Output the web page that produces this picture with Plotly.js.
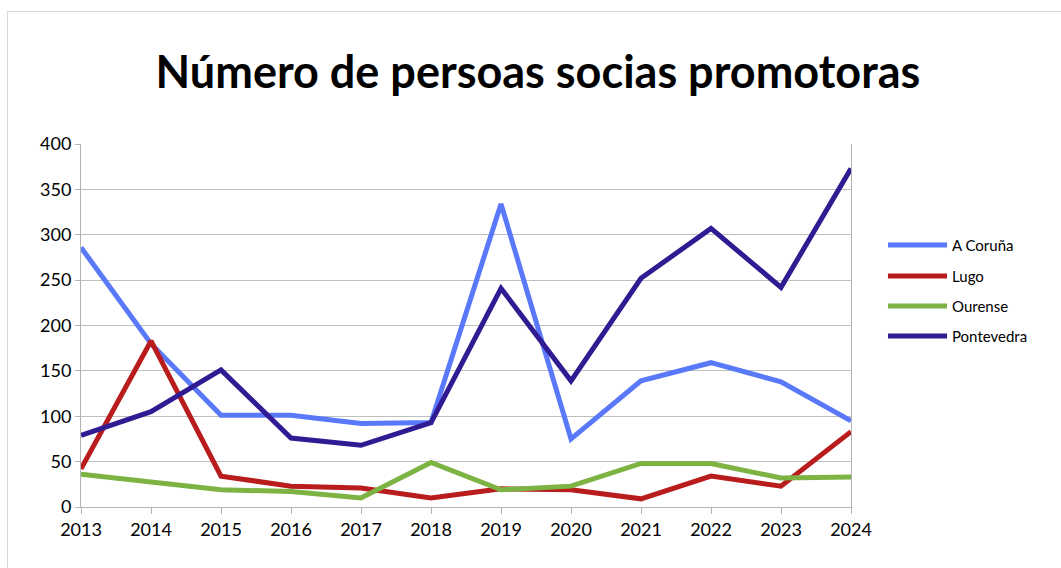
<!DOCTYPE html>
<html>
<head>
<meta charset="utf-8">
<script src="https://cdn.plot.ly/plotly-3.0.1.min.js"></script>
<style>
html,body{margin:0;padding:0;background:#fff;}
#wrap{position:relative;width:1061px;height:568px;overflow:hidden;}
#chart{width:1061px;height:568px;}
#frame{position:absolute;left:7px;top:11px;width:1100px;height:600px;border:1px solid #d9d9d9;pointer-events:none;box-sizing:border-box;}
</style>
</head>
<body>
<div id="wrap"><div id="chart"></div><div id="frame"></div></div>
<script>
const years = [2013,2014,2015,2016,2017,2018,2019,2020,2021,2022,2023,2024];
const seriesNames = ["A Coruña","Lugo","Ourense","Pontevedra"];
const aCoruna    = [286,180,101,101,92,93,334,75,139,159,138,95];
const lugo       = [42,183,34,23,21,10,20,19,9,34,23,83];
const ourense    = [36,27,19,17,10,49,19,23,48,48,32,33];
const pontevedra = [79,105,151,76,68,93,241,139,252,307,242,373];
const yTicks = [0,50,100,150,200,250,300,350,400];
const colors = ["#5a78fa","#b91c1c","#7cb342","#311b92"];

const allValues = [aCoruna, lugo, ourense, pontevedra];
const traces = allValues.map((v,i)=>({
  x: years, y: v, type:'scatter', mode:'lines', name: seriesNames[i],
  line:{color:colors[i], width:5}, showlegend:false
}));

const shapes = [], annotations = [];
const legY = [0.7218,0.6364,0.5537,0.4711];
seriesNames.forEach((n,i)=>{
  shapes.push({type:'line', xref:'paper', yref:'paper', x0:1.048, x1:1.1247, y0:legY[i], y1:legY[i],
    line:{color:colors[i], width:5}});
  annotations.push({xref:'paper', yref:'paper', x:1.129, y:legY[i], xanchor:'left', yanchor:'middle',
    text:n, showarrow:false, font:{family:'Lato, sans-serif', size:15, color:'#000'}});
});

const layout = {
  width:1061, height:568,
  margin:{l:81, r:210, t:144, b:61},
  paper_bgcolor:'#fff', plot_bgcolor:'#fff',
  title:{text:'Número de persoas socias promotoras', x:0.507, xanchor:'center', y:0.873, yanchor:'middle',
    font:{family:'Lato, sans-serif', size:45, color:'#000', weight:'bold'}},
  xaxis:{range:[2013,2024], tickvals:years, ticktext:years.map(String), showgrid:false,
    showline:true, linecolor:'#b3b3b3', linewidth:1, ticks:'outside', ticklen:6, tickcolor:'#b3b3b3',
    tickfont:{family:'Lato, sans-serif', size:18, color:'#000'}, zeroline:false, fixedrange:true},
  yaxis:{range:[0,400], tickvals:yTicks, showgrid:true, gridcolor:'#bfbfbf', gridwidth:1,
    showline:true, linecolor:'#b3b3b3', linewidth:1, mirror:true, ticks:'outside', ticklen:5, tickcolor:'#b3b3b3',
    tickfont:{family:'Lato, sans-serif', size:18, color:'#000'}, zeroline:false, fixedrange:true},
  shapes: shapes, annotations: annotations
};
Plotly.newPlot('chart', traces, layout, {displayModeBar:false, staticPlot:true});
</script>
</body>
</html>
